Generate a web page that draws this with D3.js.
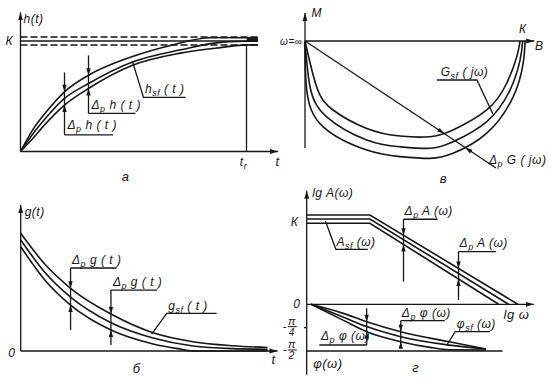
<!DOCTYPE html>
<html>
<head>
<meta charset="utf-8">
<script src="https://cdn.jsdelivr.net/npm/d3@7"></script>
<style>
  body { margin: 0; background: #fff; }
  svg text { font-family: "Liberation Sans", Arial, sans-serif; font-style: italic; font-size: 12px; fill: #161616; }
</style>
</head>
<body>
<div id="chart"></div>
<script>
// ---- а: step response h(t), K = 1, t in arbitrary units
const hUpper = [[0,0],[0.5,0.2],[1,0.35],[1.76,0.54],[2.72,0.69],[4.48,0.86],[6,0.96],[7.6,1.03],[9.5,1.03]];
const hSf    = [[0,0],[0.5,0.16],[1,0.3],[1.76,0.48],[2.72,0.615],[4.48,0.81],[6.4,0.92],[8.1,0.99],[9.5,1.0]];
const hLower = [[0,0],[0.5,0.12],[1,0.25],[1.76,0.42],[2.72,0.57],[4.48,0.78],[6.4,0.89],[8,0.94],[9.04,0.965],[9.5,0.965]];
const hBand  = [0.964, 1.036];
const tR = 9.04;

// ---- б: impulse response g(t)
const gUpper = [[0,1],[1,0.73],[2,0.533],[3.62,0.314],[5.31,0.155],[6.91,0.079],[8.5,0.045],[9.9,0.03]];
const gSf    = [[0,0.943],[1,0.66],[2,0.457],[3.62,0.24],[5.31,0.11],[6.91,0.042],[8.5,0.02],[9.9,0.015]];
const gLower = [[0,0.886],[1,0.595],[2,0.39],[3.62,0.178],[5.31,0.06],[6.3,0.02],[7.0,0],[9.9,0]];

// ---- в: frequency response G(jω), real part В, imaginary part М
const nyqInner = [[0,0],[0.053,-0.209],[0.128,-0.315],[0.282,-0.399],[0.434,-0.434],[0.571,-0.437],[0.676,-0.406],[0.83,-0.315],[0.921,-0.193],[0.967,-0.072],[0.982,0]];
const nyqSf    = [[0,0],[0.023,-0.209],[0.099,-0.346],[0.282,-0.452],[0.434,-0.483],[0.571,-0.49],[0.676,-0.46],[0.83,-0.368],[0.936,-0.224],[0.982,-0.087],[0.994,0]];
const nyqOuter = [[0,0],[0.008,-0.224],[0.082,-0.391],[0.282,-0.498],[0.434,-0.528],[0.571,-0.536],[0.676,-0.513],[0.83,-0.421],[0.951,-0.254],[0.996,-0.102],[1.005,0]];
const nyqRay   = [[0,0],[0.872,-0.58]];

// ---- г: log amplitude and phase vs lg ω (phase in degrees)
const laUpper = [[0,1.047],[1.15,1.047],[3.84,0]];
const laSf    = [[0,1.0],[1.15,1.0],[3.67,0]];
const laLower = [[0,0.95],[1.15,0.95],[3.49,0]];
const phUpper = [[0.08,0],[0.65,-17],[1.09,-33.5],[1.71,-52.8],[2.59,-72.3],[3.26,-86]];
const phSf    = [[0.08,0],[0.65,-24],[1.09,-43],[1.71,-62.4],[2.59,-78.6],[3.26,-86]];
const phLower = [[0.08,0],[0.65,-30],[1.09,-52.8],[1.71,-72],[2.24,-83],[2.59,-87.5],[3.26,-88]];

const ink = "#161616";
const svg = d3.select("#chart").append("svg").attr("width", 552).attr("height", 385);

svg.append("defs").append("marker")
    .attr("id", "ax").attr("viewBox", "0 0 10 10").attr("refX", 10).attr("refY", 5)
    .attr("markerWidth", 8).attr("markerHeight", 6).attr("markerUnits", "userSpaceOnUse")
    .attr("orient", "auto").attr("preserveAspectRatio", "none")
  .append("path").attr("d", "M0,1L10,5L0,9Z").attr("fill", ink);

function seg(pts, x, y, opt = {}) {
  const p = svg.append("path")
    .attr("d", d3.line().x(d => x(d[0])).y(d => y(d[1]))(pts))
    .attr("fill", "none").attr("stroke", ink).attr("stroke-width", opt.w || 1.3);
  if (opt.dash) p.attr("stroke-dasharray", opt.dash);
  if (opt.arrow) p.attr("marker-end", "url(#ax)");
  return p;
}
function curve(data, x, y, c = d3.curveMonotoneX) {
  return svg.append("path")
    .attr("d", d3.line().x(d => x(d[0])).y(d => y(d[1])).curve(c)(data))
    .attr("fill", "none").attr("stroke", ink).attr("stroke-width", 1.6).node();
}
// first crossing of a path with the straight line p0-p1 (pixels)
function cross(node, p0, p1, from = 0) {
  const L = node.getTotalLength(), n = 800;
  const side = p => (p1[0] - p0[0]) * (p.y - p0[1]) - (p1[1] - p0[1]) * (p.x - p0[0]);
  let i = Math.round(n * from), prev = node.getPointAtLength(L * i / n), sp = side(prev);
  for (i++; i <= n; i++) {
    const p = node.getPointAtLength(L * i / n), s = side(p);
    if (sp * s <= 0 && sp !== s) {
      const f = sp / (sp - s);
      return [prev.x + (p.x - prev.x) * f, prev.y + (p.y - prev.y) * f];
    }
    prev = p; sp = s;
  }
  return null;
}
function head(tip, ang) {
  if (!tip) return;
  const l = 7, w = 2.2, c = Math.cos(ang), s = Math.sin(ang);
  const bx = tip[0] - l * c, by = tip[1] - l * s;
  svg.append("path")
    .attr("d", `M${tip[0]},${tip[1]}L${bx - w * s},${by + w * c}L${bx + w * s},${by - w * c}Z`)
    .attr("fill", ink);
}
// text with subscripts: parts = [[str, isSub], ...]
function label(px, py, parts, anchor = "start", size = 12) {
  const t = svg.append("text").attr("x", px).attr("y", py).attr("text-anchor", anchor)
    .style("font-size", size + "px").attr("letter-spacing", 0.5);
  parts.forEach(([s, sub]) => {
    const ts = t.append("tspan").text(s);
    if (sub) ts.attr("baseline-shift", "-3").style("font-size", (size - 3) + "px");
  });
  return t;
}
// vertical dimension arrow between two curves, with a shelf and its caption
function dimV(x, y, xv, yShelf, yEnd, up, low, shelfEnd, caption, textAt) {
  seg([[xv, yShelf], [xv, yEnd]], x, y);
  const X = x(xv);
  head(cross(up, [X, 0], [X, 1]), Math.PI / 2);
  head(cross(low, [X, 0], [X, 1]), -Math.PI / 2);
  seg([[xv, yShelf], [shelfEnd, yShelf]], x, y);
  label(x(textAt[0]), y(textAt[1]), caption);
}
const dp = rest => [["Δ"], ["p", true], [rest]];

// ================= а =================
const xa = d3.scaleLinear([0, 10], [20.5, 270.5]);
const ya = d3.scaleLinear([0, 1], [151.5, 41]);
seg([[0, 0], [0, 1.26]], xa, ya, {arrow: true});
seg([[0, 0], [10.3, 0]], xa, ya, {arrow: true});
seg([[0, 1], [9.5, 1]], xa, ya);
hBand.forEach(v => seg([[0, v], [9.5, v]], xa, ya, {dash: "7,3"}));
seg([[9.05, 1.01], [9.5, 1.01]], xa, ya, {w: 3.5});
seg([[tR, 0], [tR, hBand[0]]], xa, ya);
const hu = curve(hUpper, xa, ya), hm = curve(hSf, xa, ya), hl = curve(hLower, xa, ya);
dimV(xa, ya, 1.76, 0.15, 0.715, hu, hl, 3.7, dp(" h ( t )"), [1.88, 0.2]);
dimV(xa, ya, 2.72, 0.345, 0.87, hu, hl, 4.6, dp(" h ( t )"), [2.84, 0.385]);
seg([[4.48, 0.814], [4.92, 0.49], [6.6, 0.49]], xa, ya);
label(xa(4.98), ya(0.525), [["h"], ["sf", true], [" ( t )"]]);
label(xa(0.12), ya(1.16), [["h(t)"]]);
label(xa(-0.45), ya(0.965), [["К"]], "middle");
label(xa(tR - 0.12), ya(-0.13), [["t"], ["r", true]], "middle");
label(xa(10.28), ya(-0.13), [["t"]], "middle", 13);
label(xa(4.2), ya(-0.27), [["а"]], "middle", 13);

// ================= б =================
const xb = d3.scaleLinear([0, 10], [20.7, 270]);
const yb = d3.scaleLinear([0, 1], [351, 233.3]);
seg([[0, 0], [0, 1.24]], xb, yb, {arrow: true});
seg([[0, 0], [10.3, 0]], xb, yb, {arrow: true});
const gu = curve(gUpper, xb, yb), gm = curve(gSf, xb, yb), gl = curve(gLower, xb, yb);
dimV(xb, yb, 2.0, 0.705, 0.178, gu, gl, 3.85, dp(" g ( t )"), [2.06, 0.742]);
dimV(xb, yb, 3.62, 0.518, 0.05, gu, gl, 5.47, dp(" g ( t )"), [3.7, 0.555]);
seg([[5.25, 0.144], [5.86, 0.32], [7.86, 0.32]], xb, yb);
label(xb(5.92), yb(0.352), [["g"], ["sf", true], [" ( t )"]]);
label(xb(0.16), yb(1.15), [["g(t)"]]);
label(xb(-0.36), yb(-0.05), [["0"]], "middle");
label(xb(10.14), yb(-0.11), [["t"]], "middle", 13);
label(xb(4.65), yb(-0.19), [["б"]], "middle", 13);

// ================= в =================
const xc = d3.scaleLinear([0, 1], [305, 524]);
const yc = d3.scaleLinear([0, -1], [41, 260]);
seg([[0, -0.489], [0, 0.128]], xc, yc, {arrow: true});
seg([[0, 0], [1.047, 0]], xc, yc, {arrow: true});
const cr = d3.curveNatural;
const ni = curve(nyqInner, xc, yc, cr), nm = curve(nyqSf, xc, yc, cr), no = curve(nyqOuter, xc, yc, cr);
seg(nyqRay, xc, yc);
{
  const p0 = [xc(nyqRay[0][0]), yc(nyqRay[0][1])], p1 = [xc(nyqRay[1][0]), yc(nyqRay[1][1])];
  const ang = Math.atan2(p1[1] - p0[1], p1[0] - p0[0]);
  head(cross(ni, p0, p1, 0.3), ang);
  head(cross(no, p0, p1, 0.3), ang + Math.PI);
}
seg([[0.602, -0.178], [0.785, -0.178], [0.858, -0.333]], xc, yc);
label(xc(0.62), yc(-0.158), [["G"], ["sf", true], [" ( jω)"]]);
label(xc(0.84), yc(-0.562), dp(" G ( jω)"));
label(xc(0.03), yc(0.108), [["М"]]);
label(xc(-0.012), yc(-0.016), [["ω=∞"]], "end", 10);
label(xc(0.995), yc(0.035), [["К"]], "middle");
label(xc(1.07), yc(-0.04), [["В"]], "middle");
label(xc(0.632), yc(-0.647), [["в"]], "middle", 13);

// ================= г =================
const xd = d3.scaleLinear([0, 4], [306.7, 526.7]);
const yA = d3.scaleLinear([0, 1], [304.3, 219]);
const yP = d3.scaleLinear([0, -90], [304.3, 351]);
seg([[0, -136], [0, 0]], xd, yP);
seg([[0, 0], [0, 1.33]], xd, yA, {arrow: true});
seg([[0, 0], [4.13, 0]], xd, yA, {arrow: true});
seg([[0, -90], [3.56, -90]], xd, yP);
seg([[-0.05, -45], [0, -45]], xd, yP);
const au = curve(laUpper, xd, yA, d3.curveLinear), am = curve(laSf, xd, yA, d3.curveLinear), al = curve(laLower, xd, yA, d3.curveLinear);
dimV(xd, yA, 1.76, 0.997, 0.265, au, al, 2.38, dp(" A (ω)"), [1.78, 1.052]);
dimV(xd, yA, 2.76, 0.617, 0.05, au, al, 3.44, dp(" A (ω)"), [2.78, 0.672]);
seg([[0.34, 0.977], [0.53, 0.645], [1.11, 0.645]], xd, yA);
label(xd(0.54), yA(0.68), [["A"], ["sf", true], [" (ω)"]]);
const pu = curve(phUpper, xd, yP), pm = curve(phSf, xd, yP), pl = curve(phLower, xd, yP);
dimV(xd, yP, 1.09, -78.4, -7.7, pu, pl, 0.23, dp(" φ (ω)"), [0.26, -69]);
dimV(xd, yP, 1.71, -31.6, -84.8, pu, pl, 2.51, dp(" φ (ω)"), [1.73, -24.5]);
seg([[2.55, -78.4], [2.7, -52.8], [3.33, -52.8]], xd, yP);
label(xd(2.73), yP(-46), [["φ"], ["sf", true], [" (ω)"]]);
label(xd(0.1), yA(1.255), [["lg A(ω)"]]);
label(xd(-0.22), yA(0.92), [["К"]], "middle");
label(xd(-0.18), yA(-0.04), [["0"]], "middle");
label(xd(3.58), yA(-0.17), [["lg ω"]], "start", 13);
label(xd(0.12), yP(-123), [["φ(ω)"]], "start", 13);
label(xd(1.98), yP(-131), [["г"]], "middle", 13);
// -π/4 and -π/2 fraction labels on the phase axis
[[-45, "4"], [-90, "2"]].forEach(([v, den]) => {
  const cx = xd(-0.27), cy = yP(v) - 1;
  label(cx - 7, cy + 3, [["-"]], "middle", 11);
  label(cx, cy - 2, [["π"]], "middle", 11);
  svg.append("line").attr("x1", cx - 4).attr("x2", cx + 5).attr("y1", cy).attr("y2", cy)
    .attr("stroke", ink).attr("stroke-width", 1);
  label(cx, cy + 9, [[den]], "middle", 10);
});
</script>
</body>
</html>
